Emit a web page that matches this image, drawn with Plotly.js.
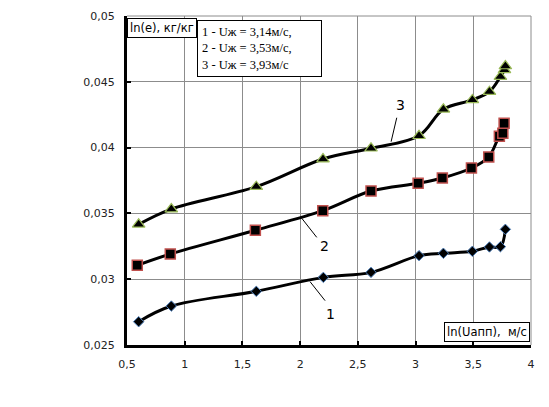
<!DOCTYPE html>
<html>
<head>
<meta charset="utf-8">
<script src="https://cdn.plot.ly/plotly-3.0.1.min.js"></script>
<style>html,body{margin:0;padding:0;background:#fff;}#chart{width:549px;height:407px;}</style>
</head>
<body>
<div id="chart"></div>
<script>
// Series 1 (Uж = 3,14 м/с)
const x1 = [0.601, 0.884, 1.620, 2.201, 2.614, 3.030, 3.241, 3.492, 3.640, 3.735, 3.778];
const y1 = [0.02677, 0.02796, 0.02908, 0.03014, 0.03052, 0.03179, 0.03197, 0.03212, 0.03245, 0.03247, 0.03379];
// Series 2 (Uж = 3,53 м/с)
const x2 = [0.589, 0.875, 1.612, 2.196, 2.614, 3.022, 3.232, 3.484, 3.634, 3.726, 3.756, 3.767];
const y2 = [0.03106, 0.03191, 0.03372, 0.03521, 0.03670, 0.03729, 0.03769, 0.03845, 0.03929, 0.04086, 0.04109, 0.04185];
// Series 3 (Uж = 3,93 м/с)
const x3 = [0.601, 0.884, 1.620, 2.198, 2.614, 3.030, 3.241, 3.492, 3.640, 3.735, 3.770, 3.778];
const y3 = [0.03417, 0.03533, 0.03703, 0.03913, 0.03995, 0.04090, 0.04291, 0.04362, 0.04425, 0.04539, 0.04590, 0.04620];

const xTicks = [0.5, 1, 1.5, 2, 2.5, 3, 3.5, 4];
const yTicks = [0.025, 0.03, 0.035, 0.04, 0.045, 0.05];
const legendLines = ["1 - Uж = 3,14м/с,", "2 - Uж = 3,53м/с,", "3 - Uж = 3,93м/с"];

function tr(x, y, sym, size, col, lw) {
  return {
    x: x, y: y, type: 'scatter', mode: 'lines+markers',
    line: {color: '#000', width: 3, shape: 'spline', smoothing: 1},
    marker: {symbol: sym, size: size, color: '#000', line: {color: col, width: lw}},
    hoverinfo: 'none', showlegend: false
  };
}

const data = [
  tr(x1, y1, 'diamond', 8, '#4f81bd', 1),
  tr(x2, y2, 'square', 10, '#c0504d', 1.5),
  tr(x3, y3, 'triangle-up', 11, '#9bbb59', 1.2)
];

const tickFont = {family: 'DejaVu Sans, Verdana, sans-serif', size: 11, color: '#222'};
const lblFont = {family: 'DejaVu Sans, Verdana, sans-serif', size: 14, color: '#000'};

const layout = {
  width: 549, height: 407,
  margin: {l: 127, r: 18, t: 16, b: 62},
  paper_bgcolor: '#fff', plot_bgcolor: '#fff',
  separators: ', ',
  showlegend: false,
  xaxis: {
    range: [0.5, 4], tickvals: xTicks, ticktext: xTicks.map(v => String(v).replace('.', ',')),
    showgrid: true, gridcolor: '#8c8c8c', gridwidth: 1,
    showline: true, linecolor: '#000', linewidth: 3,
    ticks: 'inside', ticklen: 4, tickwidth: 2, tickcolor: '#000',
    zeroline: false, tickfont: tickFont, fixedrange: true, ticklabelstandoff: 7
  },
  yaxis: {
    range: [0.025, 0.05], tickvals: yTicks, ticktext: yTicks.map(v => String(v).replace('.', ',')),
    showgrid: true, gridcolor: '#8c8c8c', gridwidth: 1,
    showline: true, linecolor: '#000', linewidth: 3,
    ticks: 'inside', ticklen: 4, tickwidth: 2, tickcolor: '#000',
    zeroline: false, tickfont: tickFont, fixedrange: true, ticklabelstandoff: 7
  },
  shapes: [
    {type: 'line', xref: 'paper', yref: 'paper', x0: 0, x1: 1, y0: 1, y1: 1, line: {color: '#8c8c8c', width: 1}},
    {type: 'line', xref: 'paper', yref: 'paper', x0: 1, x1: 1, y0: 0, y1: 1, line: {color: '#8c8c8c', width: 1}},
    {type: 'line', x0: 2.014, y0: 0.03463, x1: 2.144, y1: 0.03318, line: {color: '#000', width: 1}},
    {type: 'line', x0: 2.086, y0: 0.02981, x1: 2.216, y1: 0.02837, line: {color: '#000', width: 1}},
    {type: 'line', x0: 2.837, y0: 0.04227, x1: 2.788, y1: 0.04045, line: {color: '#000', width: 1}}
  ],
  annotations: [
    {x: 2.259, y: 0.02736, text: '1', showarrow: false, font: lblFont},
    {x: 2.207, y: 0.03255, text: '2', showarrow: false, font: lblFont},
    {x: 2.866, y: 0.04324, text: '3', showarrow: false, font: lblFont},
    {xref: 'paper', yref: 'paper', x: 0.0005, y: 0.994, xanchor: 'left', yanchor: 'top',
     text: 'ln(e), кг/кг', showarrow: false, bgcolor: '#fff', bordercolor: '#000', borderwidth: 1, borderpad: 2,
     font: {family: 'DejaVu Sans, Verdana, sans-serif', size: 11.5, color: '#000'}},
    {xref: 'paper', yref: 'paper', x: 0.174, y: 0.988, xanchor: 'left', yanchor: 'top',
     text: legendLines.join('<br>'), align: 'left', showarrow: false, bgcolor: '#fff', bordercolor: '#000', borderwidth: 1,
     borderpad: 4, width: 115,
     font: {family: 'Liberation Serif, Times New Roman, serif', size: 12.5, color: '#000'}},
    {xref: 'paper', yref: 'paper', x: 0.998, y: 0.009, xanchor: 'right', yanchor: 'bottom',
     text: 'ln(Uапп),  м/с', showarrow: false, bgcolor: '#fff', bordercolor: '#000', borderwidth: 1, borderpad: 2,
     font: {family: 'DejaVu Sans, Verdana, sans-serif', size: 11.5, color: '#000'}}
  ]
};

Plotly.newPlot('chart', data, layout, {staticPlot: true, displayModeBar: false});
</script>
</body>
</html>
